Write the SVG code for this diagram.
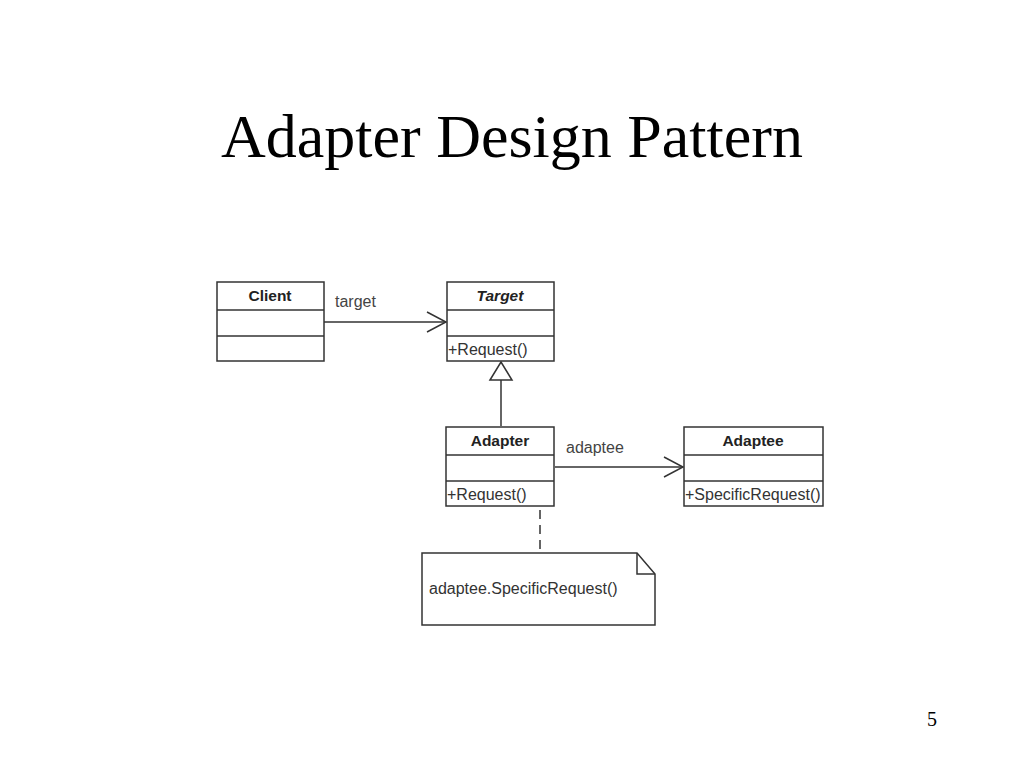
<svg xmlns="http://www.w3.org/2000/svg" width="1024" height="768" viewBox="0 0 1024 768">
<style>
.box{fill:#fff;stroke:#333;stroke-width:1.5}
.ln{stroke:#333;stroke-width:1.5;fill:none}
.nm{font-family:"Liberation Sans",Arial,sans-serif;font-size:15.5px;font-weight:bold;fill:#222;text-anchor:middle}
.op{font-family:"Liberation Sans",Arial,sans-serif;font-size:16px;fill:#333}
.lb{font-family:"Liberation Sans",Arial,sans-serif;font-size:16px;fill:#444}
</style>
<defs>
<marker id="open" markerWidth="22" markerHeight="22" refX="20" refY="11" orient="auto" markerUnits="userSpaceOnUse">
<path d="M1,1 L20,11 L1,21" fill="none" stroke="#333" stroke-width="1.5"/>
</marker>
</defs>
<rect width="1024" height="768" fill="#fff"/>
<text x="512" y="157" font-family="'Liberation Serif','Times New Roman',serif" font-size="62" text-anchor="middle" fill="#000">Adapter Design Pattern</text>
<g id="connectors">
<line class="ln" x1="324" y1="322" x2="446" y2="322" marker-end="url(#open)"/>
<text class="lb" x="335" y="307">target</text>
<line class="ln" x1="555" y1="467" x2="683" y2="467" marker-end="url(#open)"/>
<text class="lb" x="566" y="453">adaptee</text>
<line class="ln" x1="501" y1="426" x2="501" y2="380"/>
<path d="M490,380 L501,362 L512,380 Z" fill="#fff" stroke="#333" stroke-width="1.5"/>
<line class="ln" x1="540" y1="495" x2="540" y2="553" stroke-dasharray="9,6"/>
</g>
<g id="client">
<rect class="box" x="217" y="282" width="107" height="79"/>
<line class="ln" x1="217" y1="310" x2="324" y2="310"/>
<line class="ln" x1="217" y1="336" x2="324" y2="336"/>
<text class="nm" x="270" y="301">Client</text>
</g>
<g id="target">
<rect class="box" x="447" y="282" width="107" height="79"/>
<line class="ln" x1="447" y1="310" x2="554" y2="310"/>
<line class="ln" x1="447" y1="336" x2="554" y2="336"/>
<text class="nm" x="500" y="301" font-style="italic">Target</text>
<text class="op" x="448" y="355">+Request()</text>
</g>
<g id="adapter">
<rect class="box" x="446" y="427" width="108" height="79"/>
<line class="ln" x1="446" y1="455" x2="554" y2="455"/>
<line class="ln" x1="446" y1="481" x2="554" y2="481"/>
<text class="nm" x="500" y="446">Adapter</text>
<text class="op" x="447" y="500">+Request()</text>
</g>
<g id="adaptee">
<rect class="box" x="684" y="427" width="139" height="79"/>
<line class="ln" x1="684" y1="455" x2="823" y2="455"/>
<line class="ln" x1="684" y1="481" x2="823" y2="481"/>
<text class="nm" x="753" y="446">Adaptee</text>
<text class="op" x="685" y="500">+SpecificRequest()</text>
</g>
<g id="note">
<path class="box" d="M422,553 L637,553 L655,574 L655,625 L422,625 Z"/>
<path class="ln" d="M637,553 L637,574 L655,574"/>
<text class="op" x="429" y="594">adaptee.SpecificRequest()</text>
</g>
<text x="932" y="726" font-family="'Liberation Serif','Times New Roman',serif" font-size="20" text-anchor="middle" fill="#000">5</text>
</svg>
